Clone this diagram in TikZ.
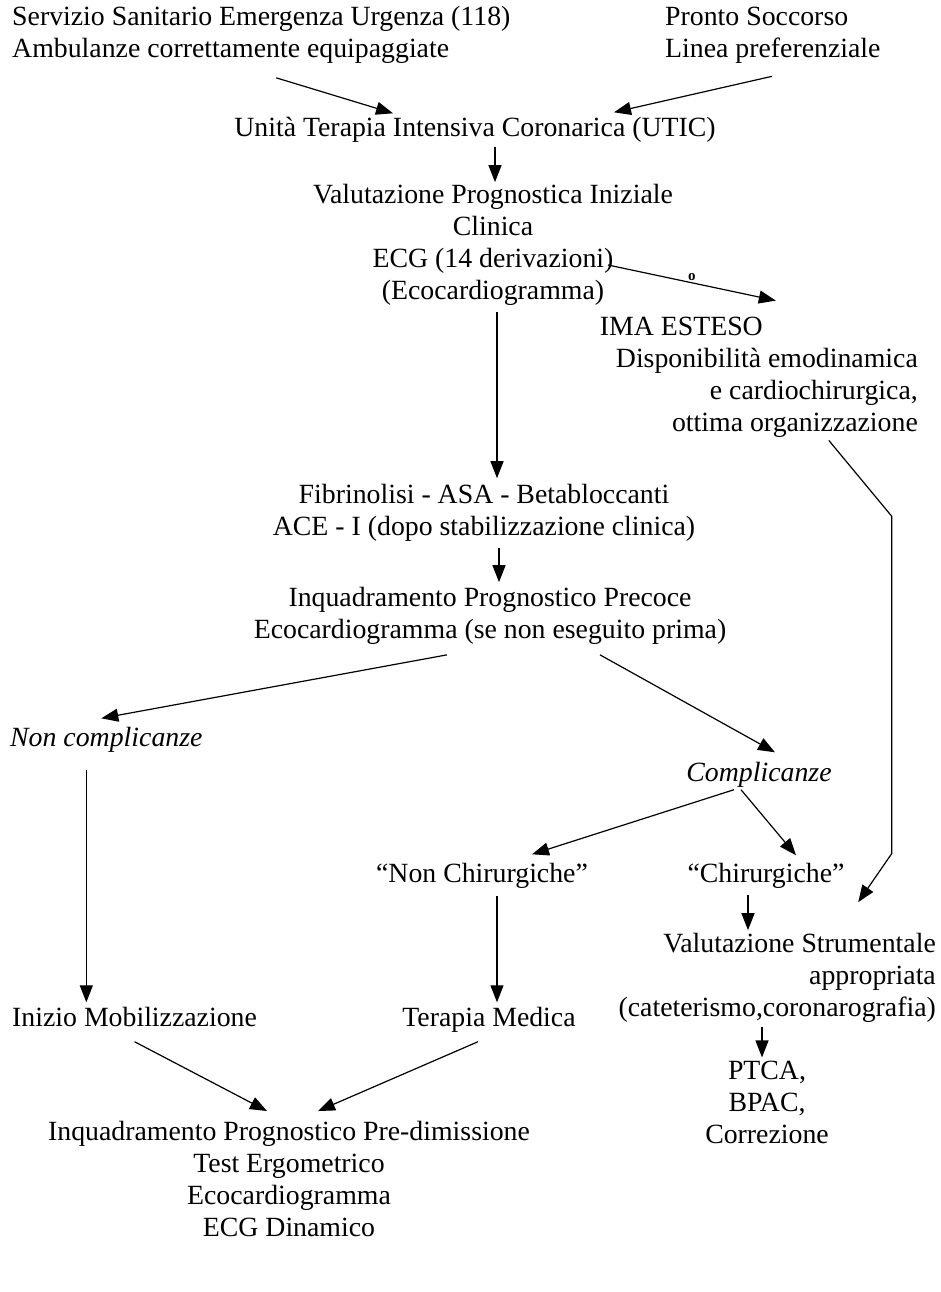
\documentclass[tikz,border=0pt]{standalone}
\usepackage{fontspec}
\setmainfont{Liberation Serif}
\usetikzlibrary{arrows.meta}

\tikzset{
  txt/.style={inner sep=0pt, align=center, font=\fontsize{27.8}{32}\selectfont},
  one/.style={txt, text height=19pt, text depth=6pt},
  arr/.style={line width=1.2pt, -{Triangle[length=17pt,width=13pt]}}
}

\begin{document}
\begin{tikzpicture}[x=1pt,y=-1pt]
\useasboundingbox (0,0) rectangle (941,1292);
% nodes
\node[txt, align=left, anchor=west] (ssu) at (12,35) {Servizio Sanitario Emergenza Urgenza (118)\\ Ambulanze correttamente equipaggiate};
\node[txt, align=left, anchor=west] (ps) at (665,35) {Pronto Soccorso\\ Linea preferenziale};
\node[one] (utic) at (475,130) {Unità Terapia Intensiva Coronarica (UTIC)};
\node[txt] (vpi) at (493,245) {Valutazione Prognostica Iniziale\\ Clinica\\ ECG (14 derivazioni)\\ (Ecocardiogramma)};
\node[txt, align=right, anchor=east] (ima) at (918,377) {IMA ESTESO\hspace*{155pt}\\ Disponibilità emodinamica\\ e cardiochirurgica,\hspace*{6pt}\\ ottima organizzazione};
\node[txt] (fib) at (484,513) {Fibrinolisi - ASA - Betabloccanti\\ ACE - I (dopo stabilizzazione clinica)};
\node[txt] (ipp) at (490,616) {Inquadramento Prognostico Precoce\\ Ecocardiogramma (se non eseguito prima)};
\node[one, anchor=west, font=\fontsize{27.8}{32}\selectfont\itshape] (noncomp) at (10,740) {Non complicanze};
\node[one, font=\fontsize{27.8}{32}\selectfont\itshape] (comp) at (759,775) {Complicanze};
\node[one] (nonchir) at (482,876) {“Non Chirurgiche”};
\node[one] (chir) at (766,876) {“Chirurgiche”};
\node[txt, align=right, anchor=east] (vs) at (936,978) {Valutazione Strumentale\\ appropriata\\ (cateterismo,coronarografia)};
\node[txt] (ptca) at (767,1102) {PTCA,\\ BPAC,\\ Correzione};
\node[one, anchor=west] (inizio) at (12,1020) {Inizio Mobilizzazione};
\node[one] (terapia) at (489,1020) {Terapia Medica};
\node[txt] (ipd) at (289,1179) {Inquadramento Prognostico Pre-dimissione\\ Test Ergometrico\\ Ecocardiogramma\\ ECG Dinamico};

% connectors
\draw[arr] ([xshift=15pt,yshift=-14pt]ssu.south) -- ([xshift=-82pt,yshift=4pt]utic.north);
\draw[arr] ([xshift=-1pt,yshift=-13pt]ps.south) -- ([xshift=139pt,yshift=5pt]utic.north);
\draw[arr] ([xshift=20pt,yshift=-4pt]utic.south) -- ([xshift=20pt,yshift=2pt]utic.south |- vpi.north);
\draw[arr] ([xshift=115pt,yshift=-20pt]vpi.center) -- ([xshift=17pt,yshift=16pt]ima.north)
  node[pos=0.5, above=2pt, inner sep=0pt, font=\bfseries\fontsize{15}{15}\selectfont] (omark) {o};
\draw[arr] ([xshift=4pt,yshift=-6pt]vpi.south) -- ([xshift=4pt,yshift=6pt]vpi.south |- fib.north);
\draw[arr] ([xshift=15pt,yshift=-6pt]fib.south) -- ([xshift=15pt,yshift=5pt]fib.south |- ipp.north);
\draw[arr] ([xshift=-43pt,yshift=-10pt]ipp.south) -- ([xshift=-5pt,yshift=9pt]noncomp.north);
\draw[arr] ([xshift=110pt,yshift=-10pt]ipp.south) -- ([xshift=16pt,yshift=10pt]comp.north);
\draw[arr] ([xshift=-20pt,yshift=-17pt]noncomp.south) -- ([xshift=-20pt,yshift=5pt]noncomp.south |- inizio.north);
\draw[arr] ([xshift=-25pt,yshift=-2pt]comp.south) -- ([xshift=50pt,yshift=9pt]nonchir.north);
\draw[arr] ([xshift=-18pt,yshift=-2pt]comp.south) -- ([xshift=30pt,yshift=8pt]chir.north);
\draw[arr] ([xshift=-18pt,yshift=-6pt]chir.south) -- ([xshift=-18pt,yshift=3pt]chir.south |- vs.north);
\draw[arr] ([xshift=70pt,yshift=-3pt]ima.south) -- ++(63,76) -- ++(0,337) -- ([xshift=81pt,yshift=31pt]vs.north);
\draw[arr] ([xshift=-5pt,yshift=-4pt]ptca.north |- vs.south) -- ([xshift=-5pt,yshift=3pt]ptca.north);
\draw[arr] ([xshift=15pt,yshift=-7pt]nonchir.south) -- ([xshift=15pt,yshift=5pt]nonchir.south |- terapia.north);
\draw[arr] ([xshift=0pt,yshift=-9pt]inizio.south) -- ([xshift=-22pt,yshift=10pt]ipd.north);
\draw[arr] ([xshift=-11pt,yshift=-9pt]terapia.south) -- ([xshift=29pt,yshift=10pt]ipd.north);
\end{tikzpicture}
\end{document}
